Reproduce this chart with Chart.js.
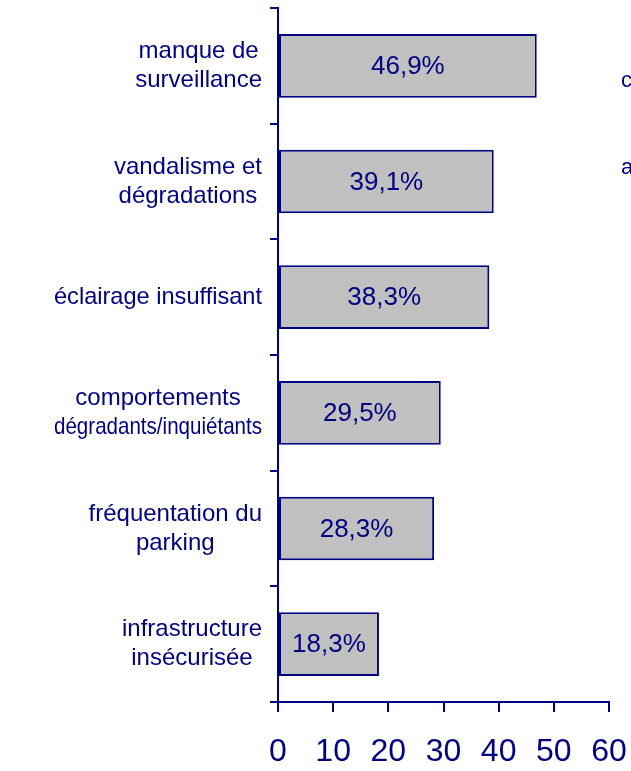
<!DOCTYPE html>
<html>
<head>
<meta charset="utf-8">
<script src="https://cdn.jsdelivr.net/npm/chart.js@4"></script>
<style>
  body { margin: 0; background: #fff; overflow: hidden; }
  #wrap { position: relative; width: 631px; height: 771px; }
  .cut { position: absolute; left: 621px; font: 22px "Liberation Sans", Arial, sans-serif; color: #000080; }
</style>
</head>
<body>
<div id="wrap">
  <canvas id="chart" width="631" height="771"></canvas>
  <div class="cut" style="top:67px">c</div>
  <div class="cut" style="top:154px">a</div>
</div>
<script>
// categories and values
const categories = [
    ["manque de", "surveillance"],
    ["vandalisme et", "dégradations"],
    ["éclairage insuffisant"],
    ["comportements", "dégradants/inquiétants"],
    ["fréquentation du", "parking"],
    ["infrastructure", "insécurisée"]
];
const values = [46.9, 39.1, 38.3, 29.5, 28.3, 18.3];
const xTicks = [0, 10, 20, 30, 40, 50, 60];

const navy = "#000080";
const fontFamily = '"Liberation Sans", Arial, sans-serif';

// labels centred line by line, right-aligned as a block next to the axis
const categoryLabels = {
    id: "categoryLabels",
    afterDraw(chart) {
        const ctx = chart.ctx;
        const yScale = chart.scales.y;
        const maxW = 208;
        ctx.save();
        ctx.font = "24px " + fontFamily;
        ctx.fillStyle = navy;
        ctx.textAlign = "center";
        ctx.textBaseline = "middle";
        const lineH = 29;
        categories.forEach(function(lines, i) {
            let w = 0;
            lines.forEach(function(l) { w = Math.max(w, Math.min(maxW, ctx.measureText(l).width)); });
            const cx = yScale.right - 16 - w / 2;
            const cy = yScale.getPixelForValue(i);
            lines.forEach(function(l, j) {
                ctx.fillText(l, cx, cy + (j - (lines.length - 1) / 2) * lineH, maxW);
            });
        });
        ctx.restore();
    }
};

// percentage labels inside bars
const barLabels = {
    id: "barLabels",
    afterDatasetsDraw(chart) {
        const ctx = chart.ctx;
        const meta = chart.getDatasetMeta(0);
        ctx.save();
        ctx.font = "26px " + fontFamily;
        ctx.fillStyle = navy;
        ctx.textAlign = "center";
        ctx.textBaseline = "middle";
        meta.data.forEach(function(bar, i) {
            const txt = values[i].toFixed(1).replace(".", ",") + "%";
            ctx.fillText(txt, (bar.x + bar.base) / 2, bar.y + 1);
        });
        ctx.restore();
    }
};

new Chart(document.getElementById("chart"), {
    type: "bar",
    data: {
        labels: categories.map(function(c) { return c.join(" "); }),
        datasets: [{
            data: values,
            backgroundColor: "#c0c0c0",
            borderColor: navy,
            borderWidth: 2,
            borderSkipped: false,
            barPercentage: 0.55,
            categoryPercentage: 1
        }]
    },
    options: {
        indexAxis: "y",
        responsive: false,
        animation: false,
        layout: { padding: { top: 8, right: 22, left: 0, bottom: 0 } },
        plugins: { legend: { display: false }, tooltip: { enabled: false } },
        scales: {
            x: {
                min: 0,
                max: 60,
                afterBuildTicks(scale) { scale.ticks = xTicks.map(function(v) { return { value: v }; }); },
                afterFit(scale) { scale.height = 69; scale.paddingRight = 0; scale.paddingLeft = 0; },
                grid: { drawOnChartArea: false, color: navy, tickLength: 10, lineWidth: 2 },
                border: { color: navy, width: 2 },
                ticks: { color: navy, font: { size: 32, family: fontFamily }, padding: 21, maxRotation: 0, autoSkip: false }
            },
            y: {
                afterFit(scale) { scale.width = 278; scale.paddingTop = 0; scale.paddingBottom = 0; },
                grid: { drawOnChartArea: false, offset: true, color: navy, tickLength: 8, lineWidth: 2 },
                border: { color: navy, width: 2 },
                ticks: { color: "rgba(0,0,0,0)", font: { size: 1, family: fontFamily } }
            }
        }
    },
    plugins: [categoryLabels, barLabels]
});
</script>
</body>
</html>
